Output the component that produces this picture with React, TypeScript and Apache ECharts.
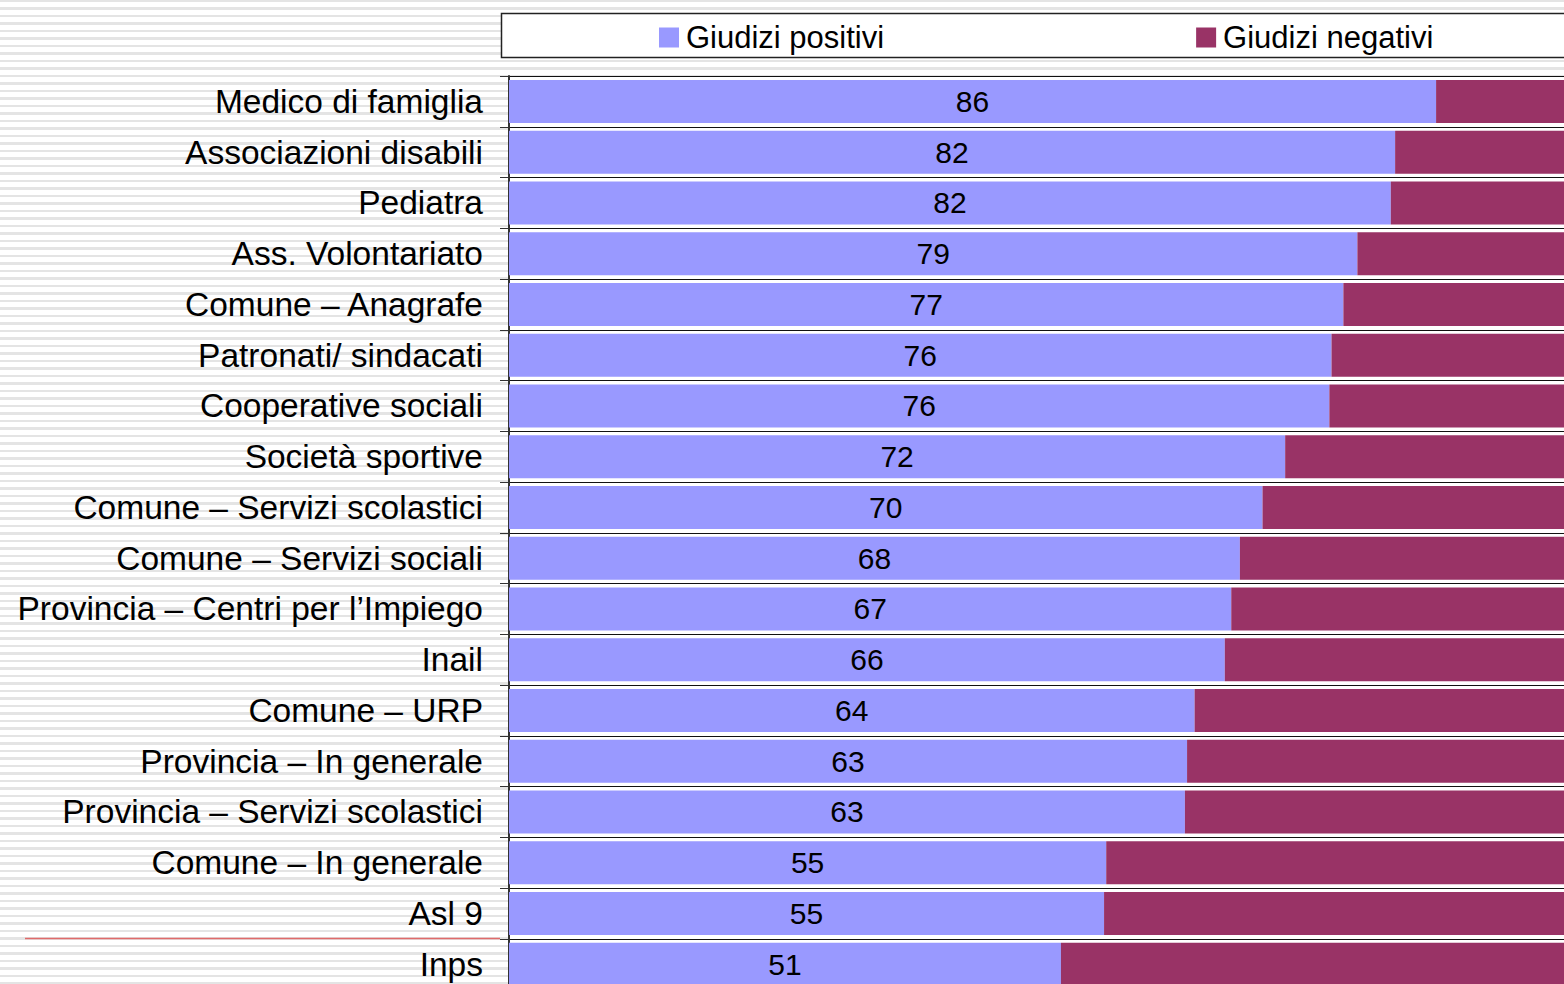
import React, { useEffect, useRef } from "react";
import * as echarts from "echarts";

const categories = [
  "Medico di famiglia",
  "Associazioni disabili",
  "Pediatra",
  "Ass. Volontariato",
  "Comune – Anagrafe",
  "Patronati/ sindacati",
  "Cooperative sociali",
  "Società sportive",
  "Comune – Servizi scolastici",
  "Comune – Servizi sociali",
  "Provincia – Centri per l’Impiego",
  "Inail",
  "Comune – URP",
  "Provincia – In generale",
  "Provincia – Servizi scolastici",
  "Comune – In generale",
  "Asl 9",
  "Inps",
];

const positivi = [86.0, 82.2, 81.8, 78.7, 77.4, 76.3, 76.1, 72.0, 69.9, 67.8, 67.0, 66.4, 63.6, 62.9, 62.7, 55.4, 55.2, 51.2];
const negativi = [14.0, 17.8, 18.2, 21.3, 22.6, 23.7, 23.9, 28.0, 30.1, 32.2, 33.0, 33.6, 36.4, 37.1, 37.3, 44.6, 44.8, 48.8];

const seriesNames = ["Giudizi positivi", "Giudizi negativi"];

const FONT = "'Liberation Sans', Arial, sans-serif";

export default function App() {
  const ref = useRef<HTMLDivElement>(null);

  useEffect(() => {
    if (!ref.current) return;
    const chart = echarts.init(ref.current, undefined, { renderer: "svg" });
    chart.setOption({
      animation: false,
      backgroundColor: "transparent",
      textStyle: { fontFamily: FONT },
      graphic: [
        {
          type: "rect",
          z: 0,
          shape: { x: 501.5, y: 13.5, width: 1200, height: 44 },
          style: { fill: "#ffffff", stroke: "#222222", lineWidth: 1.5 },
        },
        {
          type: "line",
          z: 0,
          shape: { x1: 25, y1: 938.5, x2: 500, y2: 938.5 },
          style: { stroke: "#e06a6a", lineWidth: 1.5 },
        },
      ],
      legend: {
        z: 10,
        left: 659,
        top: 22,
        padding: 0,
        itemGap: 312,
        itemWidth: 20,
        itemHeight: 20,
        icon: "rect",
        textStyle: { fontSize: 31, color: "#000", fontFamily: FONT, padding: [0, 0, 0, 2] },
        data: seriesNames,
      },
      grid: {
        left: 509,
        top: 76,
        width: 1078,
        height: 913.5,
        show: true,
        backgroundColor: "#ffffff",
        borderWidth: 0,
      },
      xAxis: {
        type: "value",
        min: 0,
        max: 100,
        show: false,
      },
      yAxis: {
        type: "category",
        inverse: true,
        data: categories,
        axisLine: { show: true, lineStyle: { color: "#333333", width: 2 } },
        axisTick: { show: true, length: 9, lineStyle: { color: "#333333", width: 1 } },
        axisLabel: { fontSize: 33.5, color: "#000", margin: 26, fontFamily: FONT },
        splitLine: { show: true, lineStyle: { color: "#111111", width: 1 } },
      },
      series: [
        {
          name: seriesNames[0],
          type: "bar",
          stack: "tot",
          barWidth: 43,
          itemStyle: { color: "#9999ff" },
          label: {
            show: true,
            position: "inside",
            fontSize: 30,
            color: "#000",
            fontFamily: FONT,
            formatter: (p: any) => String(Math.round(p.value)),
          },
          data: positivi,
        },
        {
          name: seriesNames[1],
          type: "bar",
          stack: "tot",
          barWidth: 43,
          itemStyle: { color: "#993366" },
          data: negativi,
        },
      ],
    });
    return () => chart.dispose();
  }, []);

  return (
    <div
      style={{
        position: "absolute",
        left: 0,
        top: 0,
        width: 1564,
        height: 984,
        overflow: "hidden",
        background:
          "repeating-linear-gradient(to bottom, #e4e4e4 0px, #e4e4e4 2.5px, #ffffff 2.5px, #ffffff 7.5px)",
      }}
    >
      <div ref={ref} style={{ width: 1620, height: 1000 }} />
    </div>
  );
}
